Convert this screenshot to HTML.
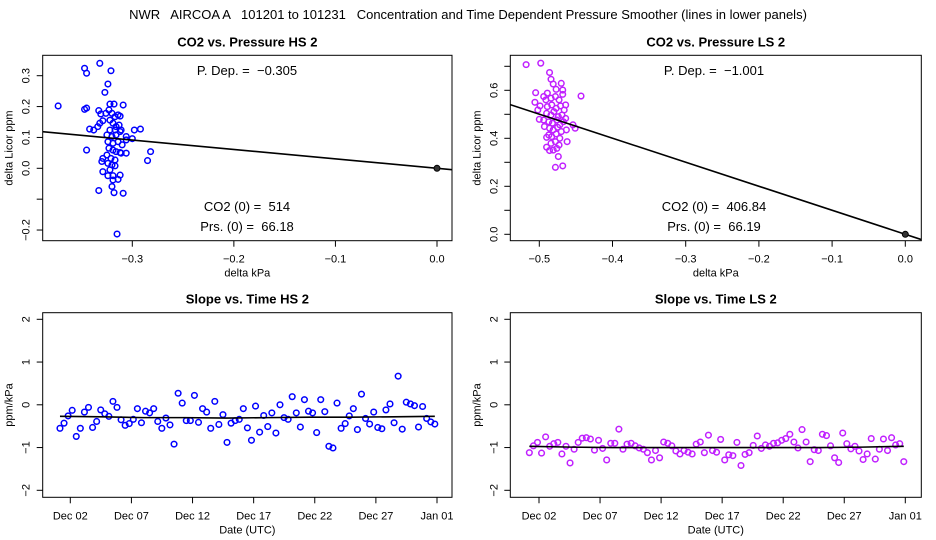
<!DOCTYPE html>
<html><head><meta charset="utf-8">
<style>
html,body{margin:0;padding:0;background:#fff;}
svg{display:block;font-family:"Liberation Sans",sans-serif;}
text{white-space:pre;}
</style></head>
<body>
<svg id="chart" width="936" height="540" viewBox="0 0 936 540" xmlns="http://www.w3.org/2000/svg" xml:space="preserve">
<text x="468" y="19" font-size="13" text-anchor="middle">NWR   AIRCOA A   101201 to 101231   Concentration and Time Dependent Pressure Smoother (lines in lower panels)</text>
</svg>
<script>
// ---------- DATA ----------
const hsPressure = [-0.373,-0.347,-0.345,-0.332,-0.321,-0.324,-0.327,-0.347,-0.345,-0.333,-0.331,-0.322,-0.318,-0.309,-0.342,-0.338,-0.334,-0.332,-0.329,-0.326,-0.323,-0.320,-0.317,-0.314,-0.312,-0.322,-0.319,-0.316,-0.313,-0.311,-0.317,-0.322,-0.325,-0.320,-0.316,-0.312,-0.306,-0.306,-0.300,-0.298,-0.292,-0.324,-0.319,-0.314,-0.310,-0.323,-0.319,-0.316,-0.312,-0.345,-0.325,-0.321,-0.317,-0.330,-0.329,-0.324,-0.320,-0.317,-0.322,-0.329,-0.324,-0.319,-0.312,-0.314,-0.319,-0.320,-0.333,-0.318,-0.309,-0.315,-0.285,-0.282,-0.306,-0.311];
const hsDeltaCO2 = [0.202,0.324,0.308,0.340,0.316,0.273,0.246,0.191,0.195,0.187,0.176,0.208,0.208,0.205,0.127,0.124,0.135,0.146,0.154,0.178,0.189,0.178,0.167,0.173,0.169,0.156,0.146,0.135,0.140,0.124,0.124,0.124,0.108,0.103,0.108,0.119,0.103,0.092,0.096,0.124,0.127,0.086,0.081,0.086,0.076,0.065,0.059,0.054,0.051,0.059,0.043,0.032,0.027,0.022,0.032,0.016,0.011,0.008,-0.005,-0.011,-0.024,-0.024,-0.022,-0.036,-0.038,-0.059,-0.072,-0.079,-0.081,-0.213,0.025,0.054,0.049,0.049];
const hsSlope = -0.305;
const lsPressure = [-0.518,-0.498,-0.486,-0.484,-0.481,-0.470,-0.477,-0.468,-0.468,-0.505,-0.443,-0.494,-0.506,-0.499,-0.502,-0.500,-0.494,-0.464,-0.454,-0.451,-0.463,-0.462,-0.490,-0.490,-0.486,-0.474,-0.478,-0.468,-0.491,-0.484,-0.478,-0.473,-0.489,-0.483,-0.477,-0.471,-0.466,-0.490,-0.484,-0.480,-0.474,-0.469,-0.487,-0.482,-0.476,-0.472,-0.467,-0.486,-0.481,-0.475,-0.470,-0.487,-0.483,-0.477,-0.472,-0.484,-0.478,-0.473,-0.481,-0.476,-0.493,-0.464,-0.489];
const lsDeltaCO2 = [0.707,0.713,0.674,0.646,0.626,0.629,0.604,0.601,0.583,0.590,0.576,0.574,0.550,0.535,0.518,0.479,0.476,0.539,0.456,0.442,0.435,0.386,0.404,0.363,0.349,0.324,0.279,0.285,0.560,0.567,0.574,0.560,0.532,0.539,0.525,0.535,0.518,0.504,0.497,0.511,0.490,0.497,0.469,0.463,0.476,0.456,0.469,0.442,0.435,0.446,0.428,0.414,0.407,0.418,0.400,0.379,0.386,0.372,0.351,0.358,0.449,0.483,0.588];
const lsSlope = -1.001;
const dateTicks = ["Dec 02","Dec 07","Dec 12","Dec 17","Dec 22","Dec 27","Jan 01"];
const dateTickDays = [1,6,11,16,21,26,31];
const hsSlopeStartDay = 0.155, lsSlopeStartDay = 0.21, slopeStepDays = 1/3;
const hsSlopeSeries = [-0.55,-0.43,-0.26,-0.13,-0.74,-0.55,-0.17,-0.06,-0.53,-0.39,-0.12,-0.21,-0.27,0.08,-0.06,-0.35,-0.48,-0.44,-0.34,-0.09,-0.42,-0.15,-0.19,-0.09,-0.39,-0.55,-0.31,-0.47,-0.92,0.27,0.04,-0.37,-0.37,0.22,-0.41,-0.09,-0.17,-0.55,0.08,-0.46,-0.23,-0.88,-0.43,-0.37,-0.34,-0.09,-0.54,-0.83,-0.03,-0.64,-0.25,-0.51,-0.19,-0.66,0,-0.30,-0.34,0.19,-0.19,-0.52,0.12,-0.15,-0.19,-0.65,0.12,-0.16,-0.97,-1.01,0.04,-0.55,-0.44,-0.26,-0.09,-0.58,0.25,-0.32,-0.45,-0.17,-0.53,-0.56,-0.12,0.02,-0.42,0.67,-0.57,0.06,0.02,-0.02,-0.52,-0.04,-0.32,-0.40,-0.45];
const hsSmoother = [-0.27,-0.28,-0.30,-0.30,-0.31,-0.30,-0.29,-0.29,-0.28,-0.27];
const lsSlopeSeries = [-1.12,-0.96,-0.88,-1.13,-0.75,-0.97,-0.91,-0.88,-1.15,-0.97,-1.36,-1.04,-0.88,-0.78,-0.77,-0.80,-1.06,-0.83,-1.02,-1.29,-0.90,-0.90,-0.57,-1.04,-0.92,-0.90,-0.96,-1.01,-1.04,-1.12,-1.29,-1.07,-1.24,-0.87,-0.90,-0.96,-1.08,-1.15,-1.07,-1.11,-1.15,-0.92,-0.87,-1.12,-0.71,-1.07,-1.11,-0.81,-1.29,-1.17,-1.19,-0.88,-1.42,-1.16,-1.12,-0.95,-0.73,-1.02,-0.94,-0.97,-0.90,-0.89,-0.83,-0.79,-0.69,-0.87,-1.01,-0.58,-0.87,-1.33,-1.05,-1.07,-0.69,-0.72,-0.96,-1.24,-1.35,-0.66,-0.91,-1.03,-0.97,-1.08,-1.28,-1.15,-0.79,-1.27,-1.04,-0.80,-1.07,-0.77,-0.94,-0.91,-1.33];
const lsSmoother = [-0.97,-0.99,-1.0,-1.0,-1.0,-1.0,-1.0,-1.0,-0.99,-0.97];

// ---------- DRAW ----------
const svg = document.getElementById('chart');
const NS = 'http://www.w3.org/2000/svg';
function mk(tag, attrs, parent){const e=document.createElementNS(NS,tag);for(const k in attrs)e.setAttribute(k,attrs[k]);(parent||svg).appendChild(e);return e;}
function lin(d0,d1,r0,r1){return v=>r0+(v-d0)*(r1-r0)/(d1-d0);}

function panel(o){
  const g=mk('g',{});
  
  
  const t=mk('text',{x:(o.L+o.R)/2,y:o.T-9,'font-size':13,'font-weight':'bold','text-anchor':'middle'},g);
  t.textContent=o.title;
  
  
  const box=mk('rect',{x:o.L,y:o.T,width:o.R-o.L,height:o.B-o.T,fill:'none',stroke:'#000','stroke-width':1},g);
  
  
  o.xt.forEach((v,i)=>{const x=o.sx(v);
    mk('line',{x1:x,x2:x,y1:o.B,y2:o.B+6,stroke:'#000'},g);
    const lab=o.xl[i]; if(lab){const tx=mk('text',{x:x,y:o.B+22,'font-size':11,'text-anchor':'middle'},g);tx.textContent=lab;
      
      }
  });
  o.yt.forEach((v,i)=>{const y=o.sy(v);
    mk('line',{x1:o.L-6,x2:o.L,y1:y,y2:y,stroke:'#000'},g);
    const lab=o.yl[i]; if(lab){const ty=mk('text',{x:o.L-13,y:y,'font-size':11,'text-anchor':'middle',transform:`rotate(-90 ${o.L-13} ${y})`},g);ty.textContent=lab;
      
      }
  });
  const xa=mk('text',{x:(o.L+o.R)/2,y:o.B+36,'font-size':11,'text-anchor':'middle'},g);xa.textContent=o.xlab;
  
  
  const yx=o.L-30, ym=(o.T+o.B)/2;
  const ya=mk('text',{x:yx,y:ym,'font-size':11,'text-anchor':'middle',transform:`rotate(-90 ${yx} ${ym})`},g);ya.textContent=o.ylab;
  
  
  return g;
}
function pt(g,x,y,col){const c=mk('circle',{cx:x,cy:y,r:2.8,fill:'none',stroke:col,'stroke-width':1.5},g);
  
  }
function ann(g,x,y,s){const t=mk('text',{x:x,y:y,'font-size':13,'text-anchor':'middle'},g);t.textContent=s;
  
  }

(function(){
  const L=42.7,R=452,T=55.3,B=240.7;
  const sx=lin(-0.3,0,132.3,437), sy=lin(0,0.3,168.3,75.7);
  const g=panel({name:'panel-co2-pressure-hs',title:'CO2 vs. Pressure HS 2',L,R,T,B,sx,sy,
    xt:[-0.3,-0.2,-0.1,0],xl:['−0.3','−0.2','−0.1','0.0'],
    yt:[-0.2,-0.1,0,0.1,0.2,0.3],yl:['−0.2','','0.0','0.1','0.2','0.3'],xlab:'delta kPa',ylab:'delta Licor ppm'});
  const cp=mk('clipPath',{id:'c1'});mk('rect',{x:L,y:T,width:R-L,height:B-T},cp);
  const pg=mk('g',{'clip-path':'url(#c1)'},g);
  hsPressure.forEach((p,i)=>pt(pg,sx(p),sy(hsDeltaCO2[i]),'#0000ff'));
  const x0=-0.45,x1=0.05;
  const ln=mk('line',{x1:sx(x0),y1:sy(hsSlope*x0),x2:sx(x1),y2:sy(hsSlope*x1),stroke:'#000','stroke-width':1.6},pg);
  
  
  mk('circle',{cx:sx(0),cy:sy(0),r:3,fill:'#333',stroke:'#000'},pg);
  ann(g,247,75,'P. Dep. =  −0.305');ann(g,247,211,'CO2 (0) =  514');ann(g,247,231,'Prs. (0) =  66.18');
})();
(function(){
  const L=510.3,R=921.3,T=55.3,B=240.7;
  const sx=lin(-0.5,0,539.3,905.3), sy=lin(0,0.6,234.3,90.3);
  const g=panel({name:'panel-co2-pressure-ls',title:'CO2 vs. Pressure LS 2',L,R,T,B,sx,sy,
    xt:[-0.5,-0.4,-0.3,-0.2,-0.1,0],xl:['−0.5','−0.4','−0.3','−0.2','−0.1','0.0'],
    yt:[0,0.1,0.2,0.3,0.4,0.5,0.6,0.7],yl:['0.0','','0.2','','0.4','','0.6',''],xlab:'delta kPa',ylab:'delta Licor ppm'});
  const cp=mk('clipPath',{id:'c2'});mk('rect',{x:L,y:T,width:R-L,height:B-T},cp);
  const pg=mk('g',{'clip-path':'url(#c2)'},g);
  lsPressure.forEach((p,i)=>pt(pg,sx(p),sy(lsDeltaCO2[i]),'#c020ff'));
  const x0=-0.6,x1=0.05;
  const ln=mk('line',{x1:sx(x0),y1:sy(lsSlope*x0),x2:sx(x1),y2:sy(lsSlope*x1),stroke:'#000','stroke-width':1.6},pg);
  
  
  mk('circle',{cx:sx(0),cy:sy(0),r:3,fill:'#333',stroke:'#000'},pg);
  ann(g,714,75,'P. Dep. =  −1.001');ann(g,714,211,'CO2 (0) =  406.84');ann(g,714,231,'Prs. (0) =  66.19');
})();
function slopePanel(name,title,L,R,d0x,d30x,series,start,smooth,col){
  const T=312.7,B=497.3;
  const sx=lin(1,31,d0x,d30x), sy=lin(0,2,404.8,319.3);
  const g=panel({name,title,L,R,T,B,sx,sy,xt:dateTickDays,xl:dateTicks,
    yt:[-2,-1,0,1,2],yl:['−2','−1','0','1','2'],xlab:'Date (UTC)',ylab:'ppm/kPa'});
  series.forEach((v,i)=>pt(g,sx(start+i*slopeStepDays),sy(v),col));
  const endDay=start+(series.length-1)*slopeStepDays;
  const pts=smooth.map((v,i)=>`${sx(start+(endDay-start)*i/(smooth.length-1))},${sy(v)}`).join(' ');
  const pl=mk('polyline',{points:pts,fill:'none',stroke:'#000','stroke-width':1.6},g);
  
  
}
slopePanel('panel-slope-time-hs','Slope vs. Time HS 2',42.7,452,70.3,437,hsSlopeSeries,hsSlopeStartDay,hsSmoother,'#0000ff');
slopePanel('panel-slope-time-ls','Slope vs. Time LS 2',510.3,921.3,539,905.3,lsSlopeSeries,lsSlopeStartDay,lsSmoother,'#c020ff');
</script>
</body></html>
